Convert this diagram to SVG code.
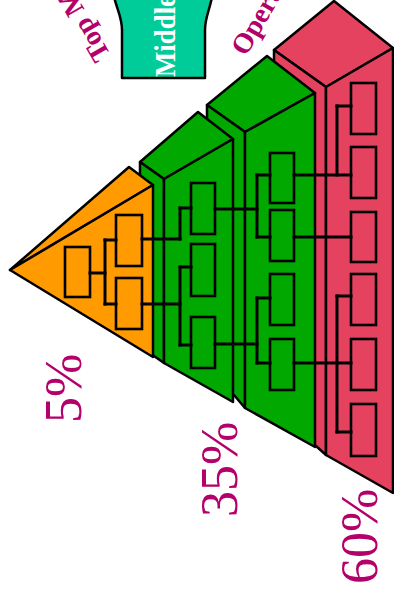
<svg xmlns="http://www.w3.org/2000/svg" width="394" height="595" viewBox="0 0 394 595">
<style>
.face{stroke:#000;stroke-width:2.5;stroke-linejoin:round}
.org{fill:#ff9a00}
.grn{fill:#00a800}
.red{fill:#e5425f}
.box{stroke:#000;stroke-width:2.6}
.con line{stroke:#000;stroke-width:3;stroke-linecap:square}
.lbl{font-family:"Liberation Serif","Times New Roman",serif;font-weight:bold;font-size:28px;fill:#b4006a}
.pct{font-family:"Liberation Serif","Times New Roman",serif;font-size:52px;fill:#b4006a}
</style>
<rect width="394" height="595" fill="#fff"/>

<g id="label-top"><text class="lbl" transform="translate(111,55) rotate(-120)">Top M</text></g>
<g id="label-middle">
<path class="face" fill="#00cc99" d="M114,-3 C118,12 122,18 122,30 L122,78 L205,78 L205,30 C205,18 209,12 212,-3 Z"/>
<text transform="translate(175,77) rotate(-90)" font-family="Liberation Serif, Times New Roman, serif" font-weight="bold" font-size="29" fill="#fff" textLength="82" lengthAdjust="spacingAndGlyphs">Middle</text>
</g>
<g id="label-oper"><text class="lbl" transform="translate(246,57) rotate(-60)">Opera</text></g>

<g id="block-red">
<polygon class="face red" points="274,50 334,1 393,48 326,87"/>
<polygon class="face red" points="274,50 326,87 326,455 316,446 274,420"/>
<polygon class="face red" points="326,87 393,48 393,493 326,455"/>
</g>
<g id="block-green2">
<polygon class="face grn" points="207,105 267,56 315,93 245,132"/>
<polygon class="face grn" points="207,105 245,132 245,408 234,395 207,380"/>
<polygon class="face grn" points="245,132 315,93 315,447 245,408"/>
</g>
<g id="block-green1">
<polygon class="face grn" points="140,162 198,112 233,139 164,179"/>
<polygon class="face grn" points="140,162 164,179 164,363 154,356 140,345"/>
<polygon class="face grn" points="164,179 233,139 233,402 164,363"/>
</g>
<g id="block-orange">
<polygon class="face org" points="10,270 129,167 153,185"/>
<polygon class="face org" points="10,270 153,185 153,357"/>
</g>

<g id="box-o1"><rect class="box org" x="65" y="247" width="25" height="50"/></g>
<g id="box-o2"><rect class="box org" x="116" y="215" width="26" height="51"/></g>
<g id="box-o3"><rect class="box org" x="116" y="278" width="26" height="51"/></g>

<g id="box-g1a"><rect class="box grn" x="191" y="183" width="24" height="51"/></g>
<g id="box-g1b"><rect class="box grn" x="191" y="244" width="24" height="52"/></g>
<g id="box-g1c"><rect class="box grn" x="191" y="317" width="24" height="51"/></g>

<g id="box-g2a"><rect class="box grn" x="270" y="153" width="24" height="50"/></g>
<g id="box-g2b"><rect class="box grn" x="270" y="210" width="24" height="51"/></g>
<g id="box-g2c"><rect class="box grn" x="270" y="274" width="24" height="51"/></g>
<g id="box-g2d"><rect class="box grn" x="270" y="339" width="24" height="51"/></g>

<g id="box-r1"><rect class="box red" x="351" y="83" width="25" height="51"/></g>
<g id="box-r2"><rect class="box red" x="351" y="147" width="25" height="51"/></g>
<g id="box-r3"><rect class="box red" x="351" y="212" width="25" height="50"/></g>
<g id="box-r4"><rect class="box red" x="351" y="274" width="25" height="51"/></g>
<g id="box-r5"><rect class="box red" x="351" y="339" width="25" height="51"/></g>
<g id="box-r6"><rect class="box red" x="351" y="404" width="25" height="52"/></g>

<g id="connectors" class="con">
<line x1="90" y1="273" x2="105" y2="273"/>
<line x1="105" y1="240" x2="105" y2="304"/>
<line x1="105" y1="240" x2="116" y2="240"/>
<line x1="105" y1="304" x2="116" y2="304"/>
<line x1="142" y1="239" x2="180" y2="239"/>
<line x1="180" y1="208" x2="180" y2="239"/>
<line x1="180" y1="208" x2="191" y2="208"/>
<line x1="142" y1="304" x2="180" y2="304"/>
<line x1="180" y1="267" x2="180" y2="345"/>
<line x1="180" y1="267" x2="191" y2="267"/>
<line x1="180" y1="345" x2="191" y2="345"/>
<line x1="215" y1="209" x2="257" y2="209"/>
<line x1="257" y1="175" x2="257" y2="237"/>
<line x1="257" y1="175" x2="270" y2="175"/>
<line x1="257" y1="237" x2="270" y2="237"/>
<line x1="215" y1="344" x2="257" y2="344"/>
<line x1="257" y1="298" x2="257" y2="363"/>
<line x1="257" y1="298" x2="270" y2="298"/>
<line x1="257" y1="363" x2="270" y2="363"/>
<line x1="294" y1="175" x2="351" y2="175"/>
<line x1="337" y1="106" x2="337" y2="175"/>
<line x1="337" y1="106" x2="351" y2="106"/>
<line x1="294" y1="237" x2="351" y2="237"/>
<line x1="294" y1="363" x2="351" y2="363"/>
<line x1="337" y1="296" x2="337" y2="432"/>
<line x1="337" y1="296" x2="351" y2="296"/>
<line x1="337" y1="432" x2="351" y2="432"/>
</g>

<g id="pct-5"><text class="pct" transform="translate(81,423) rotate(-90)">5%</text></g>
<g id="pct-35"><text class="pct" transform="translate(237,517) rotate(-90)">35%</text></g>
<g id="pct-60"><text class="pct" transform="translate(377,584) rotate(-90)">60%</text></g>
</svg>
